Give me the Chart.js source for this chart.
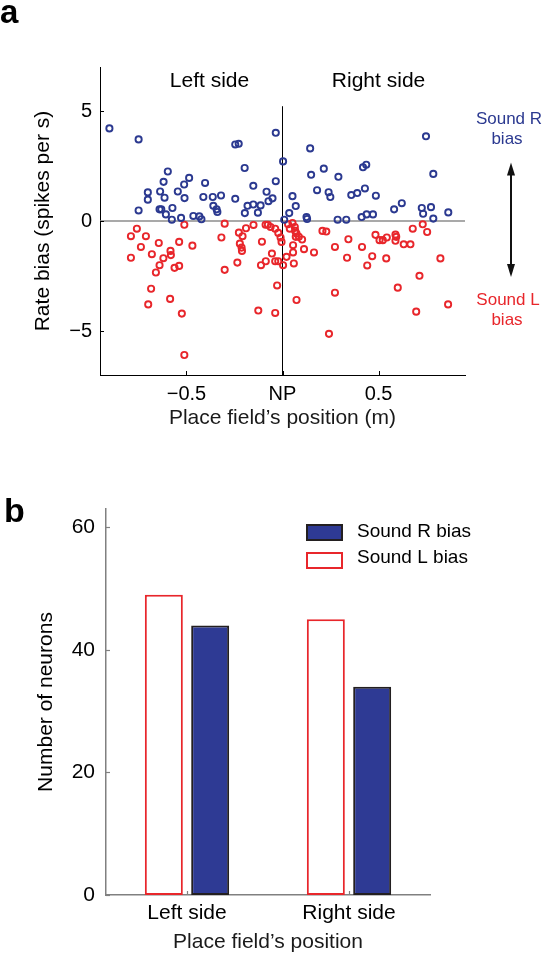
<!DOCTYPE html>
<html>
<head>
<meta charset="utf-8">
<script src="https://cdn.jsdelivr.net/npm/chart.js@4.4.1/dist/chart.umd.min.js"></script>
<style>
html, body { margin: 0; padding: 0; background: #fff; }
#chartA { position: absolute; left: 0; top: 0; }
#chartB { position: absolute; left: 0; top: 470px; }
</style>
</head>
<body>
<canvas id="chartA" width="543" height="450"></canvas>
<canvas id="chartB" width="543" height="485"></canvas>
<script>
var FONT = "'Liberation Sans', Arial, Helvetica, sans-serif";
Chart.defaults.font.family = FONT;
Chart.defaults.color = '#000';

var BLUE = '#2b3990';
var RED = '#e8262b';

// panel a: rate bias vs place field position (Sound R bias = blue, Sound L bias = red)
var rBiasX = [-0.901, -0.749, -0.749, -0.701, -0.701, -0.637, -0.619, -0.597, -0.614, -0.640, -0.631,
  -0.607, -0.576, -0.573, -0.545, -0.512, -0.510, -0.486, -0.528, -0.464, -0.433, -0.422, -0.412,
  -0.403, -0.363, -0.360, -0.343, -0.339, -0.320, -0.246, -0.246, -0.228, -0.197, -0.196, -0.182,
  -0.152, -0.152, -0.128, -0.114, -0.083, -0.073, -0.052, -0.035, -0.035,
  0.003, 0.009, 0.035, 0.052, 0.069, 0.125, 0.128, 0.144, 0.149, 0.180, 0.215, 0.240, 0.249, 0.291,
  0.287, 0.332, 0.358, 0.389, 0.429, 0.419, 0.436, 0.412, 0.438, 0.471, 0.486, 0.581, 0.621, 0.725,
  0.732, 0.747, 0.773, 0.785, 0.785, 0.863];
var rBiasY = [4.21, 3.71, 0.48, 1.30, 0.97, 1.34, 1.78, 2.25, 1.06, 0.53, 0.53,
  0.30, 0.06, 0.59, 1.34, 1.66, 1.04, 1.96, 0.14, 0.23, 0.21, 0.08, 1.09,
  1.73, 1.09, 0.69, 0.53, 0.41, 1.16, 1.01, 3.48, 3.51, 2.41, 0.36, 0.69,
  1.60, 0.75, 0.38, 0.71, 1.33, 0.90, 1.03, 4.01, 1.81,
  2.71, 0.06, 0.36, 1.13, 0.68, 0.18, 0.09, 3.30, 2.10, 1.40, 2.38, 1.31, 1.09, 2.01,
  0.06, 0.06, 1.18, 1.27, 1.48, 2.44, 2.56, 0.18, 0.30, 0.30, 1.15, 0.53, 0.81, 0.59,
  0.33, 3.85, 0.63, 2.14, 0.11, 0.39];
var lBiasX = [-0.758, -0.789, -0.711, -0.789, -0.737, -0.644, -0.680, -0.640, -0.659, -0.620,
  -0.583, -0.581, -0.538, -0.562, -0.538, -0.684, -0.699, -0.585, -0.524, -0.511, -0.511, -0.469,
  -0.318, -0.301, -0.301, -0.235, -0.227, -0.208, -0.222, -0.213, -0.211, -0.190, -0.151, -0.126,
  -0.112, -0.107, -0.088, -0.076, -0.062, -0.087, -0.055, -0.038, -0.022, -0.038, -0.022, -0.010,
  -0.028, -0.038, -0.005,
  0.029, 0.052, 0.038, 0.064, 0.073, 0.069, 0.055, 0.102, 0.112, 0.055, 0.021, 0.003, 0.059, 0.073,
  0.164, 0.208, 0.228, 0.242, 0.273, 0.273, 0.336, 0.343, 0.414, 0.441, 0.467, 0.484, 0.505, 0.522,
  0.543, 0.540, 0.588, 0.592, 0.588, 0.600, 0.631, 0.666, 0.678, 0.696, 0.713, 0.730, 0.753, 0.822,
  0.862, 0.085, 0.066];
var lBiasY = [-0.35, -0.69, -0.69, -1.67, -1.18, -1.00, -1.51, -2.01, -2.34, -1.69,
  -1.36, -1.55, -0.95, -2.13, -2.04, -3.08, -3.79, -3.54, -4.21, -0.17, -6.09, -1.12,
  -0.75, -0.12, -2.22, -1.89, -0.53, -0.69, -1.03, -1.21, -1.36, -0.33, -0.18, -4.07,
  -2.01, -0.94, -0.17, -0.17, -0.27, -1.83, -1.48, -1.83, -1.83, -0.35, -0.54, -0.75,
  -2.93, -4.18, -0.95,
  -0.15, -0.09, -0.35, -0.27, -0.57, -0.72, -1.10, -0.84, -1.28, -1.43, -1.63, -2.01, -1.93, -3.59,
  -1.43, -0.45, -0.48, -5.13, -1.18, -3.26, -1.67, -0.83, -1.18, -2.02, -1.60, -0.63, -0.87, -0.87,
  -0.75, -1.70, -0.62, -0.72, -0.90, -3.03, -1.06, -1.06, -0.35, -4.12, -2.49, -0.15, -0.50, -1.70,
  -3.79, -0.72, -0.45];
var posTicks = [-0.5, 0, 0.5];
var posTickText = ['\u22120.5', 'NP', '0.5'];
var rateTicks = [-5, 0, 5];
var rateTickText = ['\u22125', '0', '5'];
var sideTitles = ['Left side', 'Right side'];

// panel b: neuron counts
var sides = ['Left side', 'Right side'];
var countL = [49, 45];
var countR = [44, 34];
var countTicks = [0, 20, 40, 60];

function pts(xs, ys) {
  return xs.map(function (x, i) { return { x: x, y: ys[i] }; });
}

var panelAExtras = {
  id: 'panelAExtras',
  afterDraw: function (chart) {
    var ctx = chart.ctx, xs = chart.scales.x, ys = chart.scales.y;
    ctx.save();
    // inward tick marks
    ctx.strokeStyle = '#000';
    ctx.lineWidth = 1;
    posTicks.forEach(function (v) {
      var px = Math.round(xs.getPixelForValue(v)) + 0.5;
      ctx.beginPath(); ctx.moveTo(px, ys.bottom); ctx.lineTo(px, ys.bottom - 4); ctx.stroke();
    });
    rateTicks.forEach(function (v) {
      var py = Math.round(ys.getPixelForValue(v)) + 0.5;
      ctx.beginPath(); ctx.moveTo(xs.left, py); ctx.lineTo(xs.left + 4, py); ctx.stroke();
    });
    // side titles
    ctx.fillStyle = '#000';
    ctx.font = '21px ' + FONT;
    ctx.textAlign = 'center';
    ctx.textBaseline = 'middle';
    ctx.fillText(sideTitles[0], xs.getPixelForValue(-0.38), ys.getPixelForValue(6.37));
    ctx.fillText(sideTitles[1], xs.getPixelForValue(0.5), ys.getPixelForValue(6.37));
    // bias annotations
    ctx.font = '17px ' + FONT;
    ctx.fillStyle = BLUE;
    ctx.fillText('Sound R', 509, 119);
    ctx.fillText('bias', 507, 139);
    ctx.fillStyle = RED;
    ctx.fillText('Sound L', 508, 300);
    ctx.fillText('bias', 507, 320);
    // double arrow
    var ax = 511, y1 = ys.getPixelForValue(2.66), y2 = ys.getPixelForValue(-2.55);
    ctx.strokeStyle = '#111';
    ctx.fillStyle = '#111';
    ctx.lineWidth = 2;
    ctx.beginPath(); ctx.moveTo(ax, y1 + 10); ctx.lineTo(ax, y2 - 10); ctx.stroke();
    ctx.beginPath(); ctx.moveTo(ax, y1); ctx.lineTo(ax - 4, y1 + 13); ctx.lineTo(ax + 4, y1 + 13); ctx.closePath(); ctx.fill();
    ctx.beginPath(); ctx.moveTo(ax, y2); ctx.lineTo(ax - 4, y2 - 13); ctx.lineTo(ax + 4, y2 - 13); ctx.closePath(); ctx.fill();
    // panel letter
    ctx.fillStyle = '#000';
    ctx.font = 'bold 33px ' + FONT;
    ctx.textAlign = 'left';
    ctx.textBaseline = 'alphabetic';
    ctx.fillText('a', 0, 23);
    ctx.restore();
  }
};

new Chart(document.getElementById('chartA'), {
  type: 'scatter',
  data: {
    datasets: [
      { label: 'Sound R bias', data: pts(rBiasX, rBiasY), borderColor: BLUE, backgroundColor: 'rgba(0,0,0,0)',
        pointRadius: 3.1, borderWidth: 1.9, order: 1 },
      { label: 'Sound L bias', data: pts(lBiasX, lBiasY), borderColor: RED, backgroundColor: 'rgba(0,0,0,0)',
        pointRadius: 3.1, borderWidth: 1.9, order: 1 },
      { label: 'zero', data: [{ x: -0.95, y: 0 }, { x: 0.95, y: 0 }], showLine: true, pointRadius: 0,
        borderColor: '#8c8c8c', borderWidth: 1.6, order: 3 },
      { label: 'NP', data: [{ x: 0, y: 5.2 }, { x: 0, y: -7 }], showLine: true, pointRadius: 0,
        borderColor: '#000', borderWidth: 1, order: 2 }
    ]
  },
  options: {
    responsive: false,
    animation: false,
    events: [],
    layout: { padding: { left: 0, top: 67, right: 78, bottom: 0 } },
    plugins: { legend: { display: false }, tooltip: { enabled: false } },
    scales: {
      x: {
        type: 'linear', min: -0.95, max: 0.95,
        grid: { display: false, drawTicks: false },
        border: { color: '#000', width: 1 },
        afterBuildTicks: function (s) { s.ticks = posTicks.map(function (v) { return { value: v }; }); },
        afterFit: function (s) { s.height = 75; },
        ticks: { padding: 7, font: { size: 20 }, color: '#000', maxRotation: 0, autoSkip: false,
          callback: function (v, i) { return posTickText[i]; } },
        title: { display: true, text: 'Place field\u2019s position (m)', font: { size: 21 }, color: '#1a1a1a',
          padding: { top: 0, bottom: 19 } }
      },
      y: {
        type: 'linear', min: -7, max: 7,
        grid: { display: false, drawTicks: false },
        border: { color: '#000', width: 1 },
        afterBuildTicks: function (s) { s.ticks = rateTicks.map(function (v) { return { value: v }; }); },
        afterFit: function (s) { s.width = 100; },
        ticks: { padding: 8, font: { size: 20 }, color: '#000', autoSkip: false,
          callback: function (v, i) { return rateTickText[i]; } },
        title: { display: true, text: 'Rate bias (spikes per s)', font: { size: 21 }, color: '#000',
          padding: { top: 31, bottom: 0 } }
      }
    }
  },
  plugins: [panelAExtras]
});

var panelBExtras = {
  id: 'panelBExtras',
  afterDraw: function (chart) {
    var ctx = chart.ctx, xs = chart.scales.x, ys = chart.scales.y;
    ctx.save();
    ctx.strokeStyle = '#808080';
    ctx.lineWidth = 1.2;
    countTicks.forEach(function (v) {
      var py = Math.round(ys.getPixelForValue(v)) + 0.5;
      ctx.beginPath(); ctx.moveTo(xs.left, py); ctx.lineTo(xs.left + 4, py); ctx.stroke();
    });
    sides.forEach(function (s, i) {
      var px = Math.round(xs.getPixelForValue(i)) + 0.5;
      ctx.beginPath(); ctx.moveTo(px, ys.bottom); ctx.lineTo(px, ys.bottom - 4); ctx.stroke();
    });
    // legend
    var ds = chart.data.datasets;
    ctx.lineWidth = 2;
    ctx.fillStyle = ds[1].backgroundColor;
    ctx.strokeStyle = ds[1].borderColor;
    ctx.fillRect(307, 55, 35, 15);
    ctx.strokeRect(307, 55, 35, 15);
    ctx.fillStyle = ds[0].backgroundColor;
    ctx.strokeStyle = ds[0].borderColor;
    ctx.fillRect(307, 83, 35, 15);
    ctx.strokeRect(307, 83, 35, 15);
    ctx.fillStyle = '#000';
    ctx.font = '19px ' + FONT;
    ctx.textAlign = 'left';
    ctx.textBaseline = 'middle';
    ctx.fillText(ds[1].label, 357, 62);
    ctx.fillText(ds[0].label, 357, 88);
    // panel letter
    ctx.font = 'bold 34px ' + FONT;
    ctx.textBaseline = 'alphabetic';
    ctx.fillText('b', 4, 52);
    ctx.restore();
  }
};

new Chart(document.getElementById('chartB'), {
  type: 'bar',
  data: {
    labels: sides,
    datasets: [
      { label: 'Sound L bias', data: countL, backgroundColor: '#ffffff', borderColor: RED, borderWidth: 2,
        borderSkipped: false, categoryPercentage: 0.572, barPercentage: 0.82 },
      { label: 'Sound R bias', data: countR, backgroundColor: '#2e3a94', borderColor: '#231f20', borderWidth: 2,
        borderSkipped: false, categoryPercentage: 0.572, barPercentage: 0.82 }
    ]
  },
  options: {
    responsive: false,
    animation: false,
    events: [],
    layout: { padding: { left: 0, top: 39, right: 113, bottom: 0 } },
    plugins: { legend: { display: false }, tooltip: { enabled: false } },
    scales: {
      x: {
        grid: { display: false, drawTicks: false },
        border: { color: '#808080', width: 1.5 },
        afterFit: function (s) { s.height = 60; },
        ticks: { padding: 6, font: { size: 21 }, color: '#000', maxRotation: 0 },
        title: { display: true, text: 'Place field\u2019s position', font: { size: 21 }, color: '#1a1a1a',
          padding: { top: 0, bottom: 0 } }
      },
      y: {
        type: 'linear', min: 0, max: 63,
        grid: { display: false, drawTicks: false },
        border: { color: '#808080', width: 1.5 },
        afterBuildTicks: function (s) { s.ticks = countTicks.map(function (v) { return { value: v }; }); },
        afterFit: function (s) { s.width = 106; },
        ticks: { padding: 11, font: { size: 21 }, color: '#000', autoSkip: false },
        title: { display: true, text: 'Number of neurons', font: { size: 21 }, color: '#000',
          padding: { top: 34, bottom: 0 } }
      }
    }
  },
  plugins: [panelBExtras]
});
</script>
</body>
</html>
